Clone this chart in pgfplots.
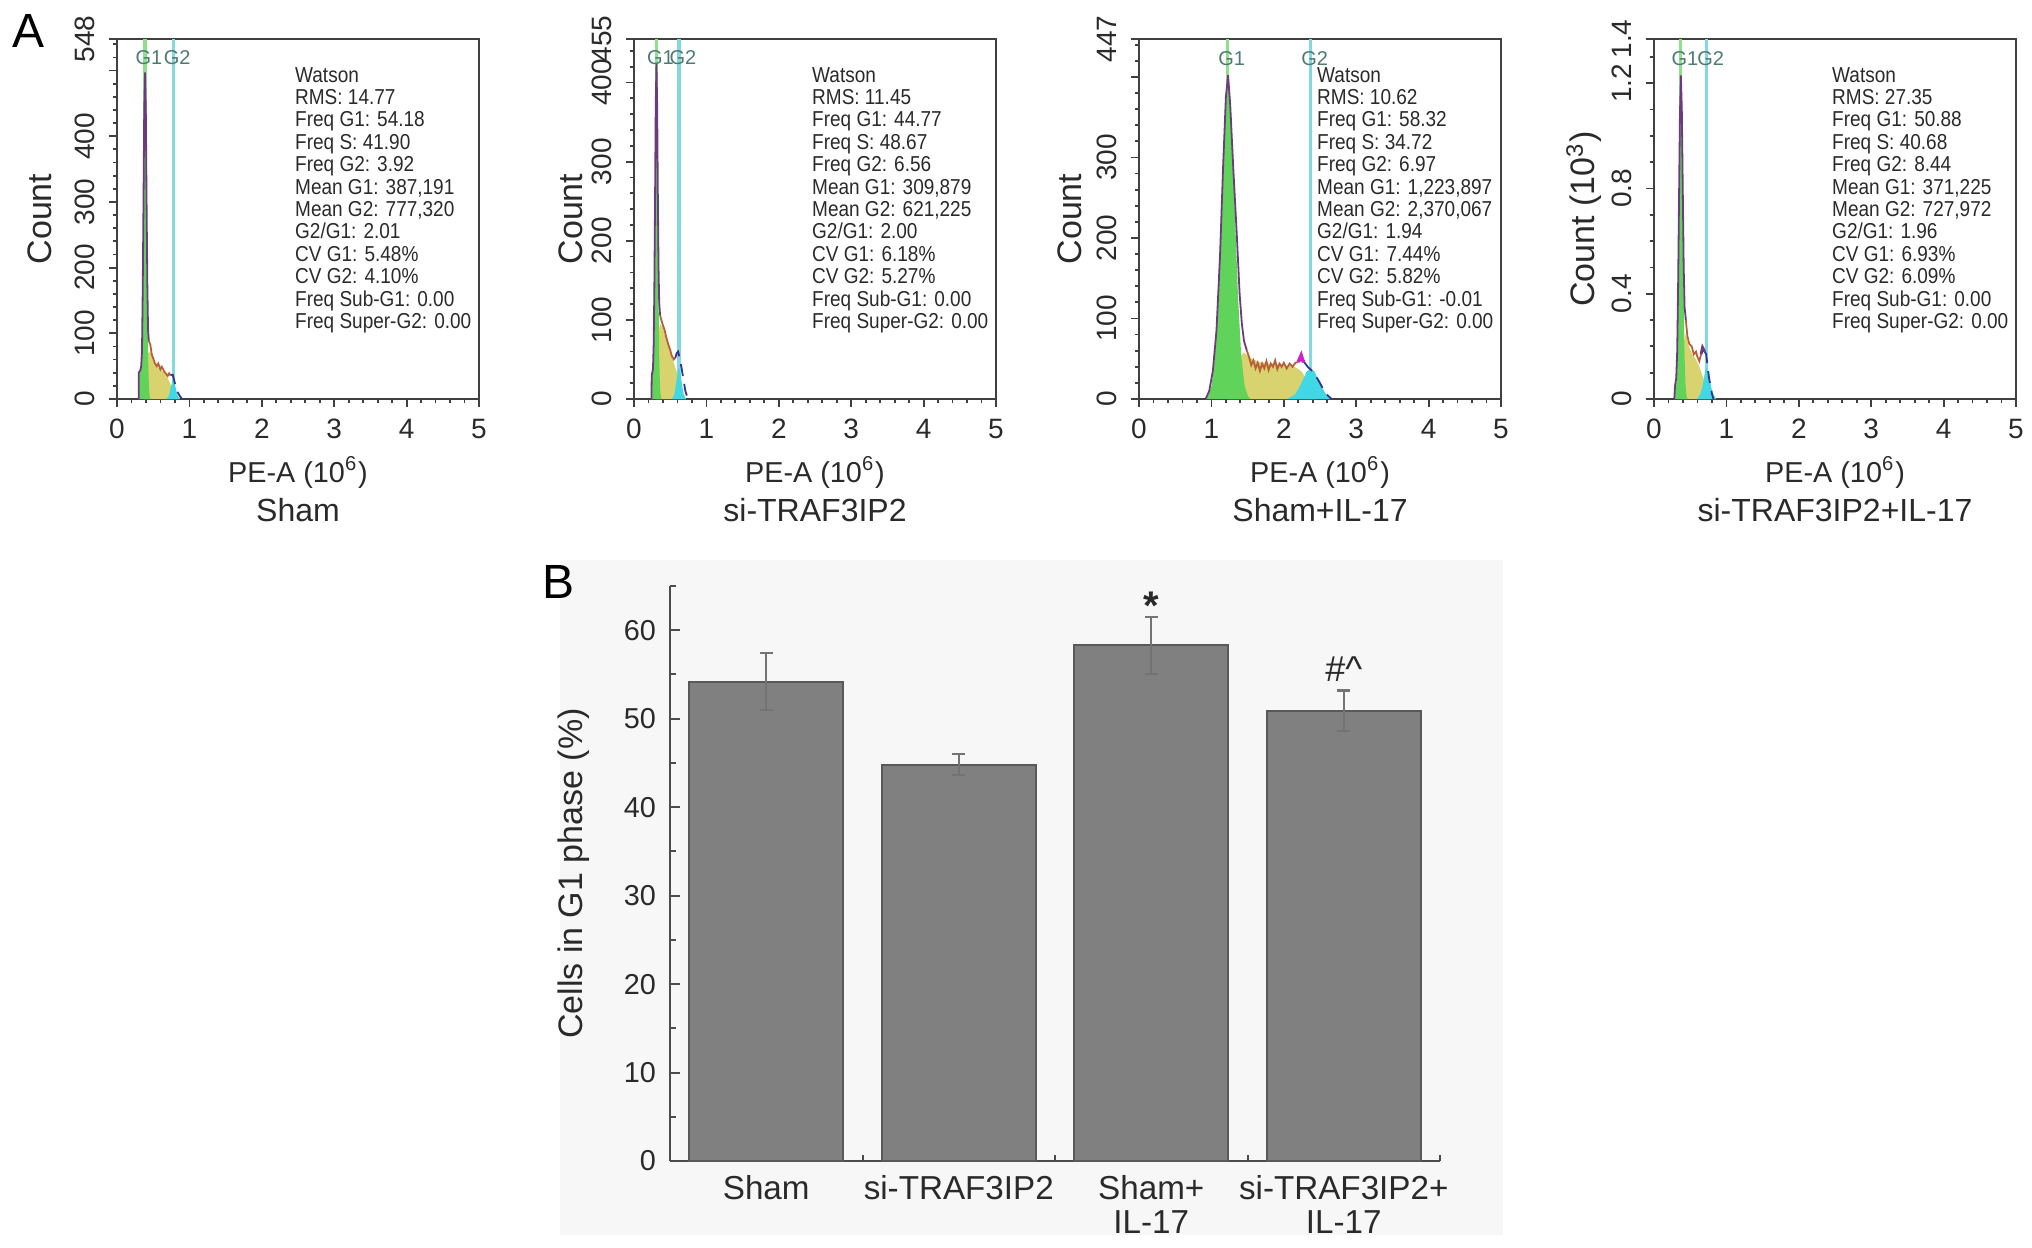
\documentclass[border=0pt]{standalone}
\usepackage{fontspec}
\setmainfont{Liberation Sans}
\newfontfamily\narrowfont[FakeStretch=0.88]{Liberation Sans}
\usepackage{pgfplots}
\pgfplotsset{compat=1.18}

\definecolor{gA}{HTML}{5FD35A}
\definecolor{yS}{HTML}{D8D36E}
\definecolor{cG}{HTML}{3FD8E4}
\definecolor{outl}{HTML}{6E3A7E}
\definecolor{brn}{HTML}{B8603A}
\definecolor{nvy}{HTML}{34348E}
\definecolor{mag}{HTML}{D020C8}
\definecolor{gline}{HTML}{8EE08E}
\definecolor{cline}{HTML}{86D8E0}
\definecolor{glab}{HTML}{4F7A74}
\definecolor{barfill}{HTML}{808080}
\definecolor{txt}{HTML}{2A2A2A}

\pgfplotsset{
  hist/.style={
    anchor=south west, scale only axis, width=90.5pt, height=90pt,
    xmin=0, xmax=5, ymin=0, clip=false,
    axis line style={draw=black!75, line width=0.7pt},
    xtick={0,1,2,3,4,5}, minor x tick num=4,
    tick align=outside, tick pos=left,
    major tick length=2pt, minor tick length=1.1pt,
    tick style={black!75, line width=0.45pt},
    ticklabel style={font=\fontsize{7}{8}\selectfont, text=txt},
    xticklabel style={yshift=0.5pt},
    /pgf/number format/assume math mode=true,
    yticklabel style={rotate=90, anchor=south},
    xlabel={PE-A (10\textsuperscript{6})},
    xlabel style={font=\fontsize{7.2}{8}\selectfont, text=txt, at={(axis description cs:0.5,-0.203)}, anchor=center},
    ylabel style={font=\fontsize{8.5}{9}\selectfont, text=txt, rotate=0, anchor=center},
  },
}
\tikzset{
  wat/.style={anchor=north west, font=\narrowfont\fontsize{5.4}{5.6}\selectfont, align=left, inner sep=0pt, text=txt},
  glabel/.style={font=\fontsize{5}{6}\selectfont, text=glab, xshift=1pt, inner sep=0pt},
  ttl/.style={font=\fontsize{8}{9}\selectfont, text=txt},
}

\begin{document}
\begin{tikzpicture}
\useasboundingbox (0,0) rectangle (508pt,311.75pt);
\fill[black!3] (140pt,3pt) rectangle (375.75pt,171.75pt);
\node[font=\fontsize{12}{14}\selectfont, text=black] at (7.25pt,304pt) {A};
\node[font=\fontsize{12}{14}\selectfont, text=black] at (139.5pt,166.25pt) {B};

% ---------------- Panel 1: Sham
\begin{axis}[hist, at={(29.25pt,212pt)}, ymax=548,
  ytick={0,100,200,300,400,500,548}, yticklabels={0,100,200,300,400,,548},
  minor ytick={20,40,...,540},
  ylabel={Count}, ylabel style={at={(axis description cs:-0.212,0.5)}}]
\addplot[gline, line width=0.8pt] coordinates {(0.387,0) (0.387,548)};
\addplot[cline, line width=0.8pt] coordinates {(0.777,0) (0.777,548)};
\addplot[fill=yS, draw=none] coordinates {(0.37,0) (0.40,40) (0.43,70) (0.46,72) (0.50,58) (0.55,50) (0.60,45) (0.65,40) (0.70,32) (0.74,22) (0.78,12) (0.82,4) (0.85,0)} \closedcycle;
\addplot[fill=cG, draw=none] coordinates {(0.68,0) (0.713,4) (0.729,10) (0.745,18) (0.761,26) (0.777,30) (0.793,26) (0.809,18) (0.825,10) (0.841,4) (0.873,0)} \closedcycle;
\addplot[fill=gA, draw=none] coordinates {(0.30,0) (0.30,40) (0.323,42) (0.334,48) (0.345,70) (0.355,159) (0.366,297) (0.376,432) (0.387,490) (0.398,432) (0.408,297) (0.419,159) (0.429,66) (0.440,22) (0.451,5) (0.46,0)} \closedcycle;
\addplot[outl, line width=0.45pt] coordinates {(0.29,0) (0.30,0) (0.30,40) (0.323,44) (0.334,50) (0.345,72) (0.355,162) (0.366,300) (0.376,440) (0.387,497) (0.398,440) (0.408,305) (0.419,175) (0.429,105) (0.44,88)};
\addplot[brn, line width=0.45pt] coordinates {(0.44,88) (0.46,83) (0.48,68) (0.50,62) (0.52,55) (0.55,50) (0.57,54) (0.60,45) (0.62,49) (0.65,42) (0.68,38) (0.70,35) (0.72,39) (0.74,36)};
\addplot[nvy, line width=0.45pt, densely dashed] coordinates {(0.74,36) (0.77,37) (0.80,24) (0.84,10) (0.87,4) (0.90,0)};
\node[glabel] at (axis cs:0.387,519) {G1};
\node[glabel] at (axis cs:0.777,519) {G2};
\node[wat] at (rel axis cs:0.49,0.924) {Watson\\RMS: 14.77\\Freq G1: 54.18\\Freq S: 41.90\\Freq G2: 3.92\\Mean G1: 387,191\\Mean G2: 777,320\\G2/G1: 2.01\\CV G1: 5.48\%\\CV G2: 4.10\%\\Freq Sub-G1: 0.00\\Freq Super-G2: 0.00};
\node[ttl] at (rel axis cs:0.5,-0.308) {Sham};
\end{axis}

% ---------------- Panel 2: si-TRAF3IP2
\begin{axis}[hist, at={(158.5pt,212pt)}, ymax=455,
  ytick={0,100,200,300,400,455}, yticklabels={0,100,200,300,400,455},
  minor ytick={20,40,...,440},
  ylabel={Count}, ylabel style={at={(axis description cs:-0.176,0.5)}}]
\addplot[gline, line width=0.8pt] coordinates {(0.310,0) (0.310,455)};
\addplot[cline, line width=0.8pt] coordinates {(0.621,0) (0.621,455)};
\addplot[fill=yS, draw=none] coordinates {(0.30,0) (0.33,80) (0.36,95) (0.40,90) (0.45,75) (0.50,60) (0.55,45) (0.60,32) (0.65,18) (0.69,6) (0.72,0)} \closedcycle;
\addplot[fill=cG, draw=none] coordinates {(0.523,0) (0.556,5) (0.572,14) (0.588,24) (0.605,35) (0.621,40) (0.637,35) (0.654,24) (0.670,14) (0.686,5) (0.72,0)} \closedcycle;
\addplot[fill=gA, draw=none] coordinates {(0.24,0) (0.245,28) (0.252,30) (0.262,35) (0.272,58) (0.281,133) (0.291,249) (0.300,362) (0.310,410) (0.320,362) (0.329,249) (0.339,133) (0.348,55) (0.358,18) (0.368,5) (0.38,0)} \closedcycle;
\addplot[outl, line width=0.45pt] coordinates {(0.235,0) (0.24,0) (0.245,30) (0.262,38) (0.272,70) (0.281,140) (0.291,255) (0.300,370) (0.310,424) (0.320,370) (0.329,262) (0.339,165) (0.348,122) (0.36,106)};
\addplot[brn, line width=0.45pt] coordinates {(0.36,106) (0.377,100) (0.40,93) (0.42,88) (0.446,78) (0.47,70) (0.50,62) (0.52,55) (0.55,50) (0.57,52)};
\addplot[nvy, line width=0.45pt, densely dashed] coordinates {(0.57,52) (0.59,58) (0.61,60) (0.63,52) (0.66,38) (0.68,26) (0.71,10) (0.745,0)};
\node[glabel] at (axis cs:0.310,431) {G1};
\node[glabel] at (axis cs:0.621,431) {G2};
\node[wat] at (rel axis cs:0.49,0.924) {Watson\\RMS: 11.45\\Freq G1: 44.77\\Freq S: 48.67\\Freq G2: 6.56\\Mean G1: 309,879\\Mean G2: 621,225\\G2/G1: 2.00\\CV G1: 6.18\%\\CV G2: 5.27\%\\Freq Sub-G1: 0.00\\Freq Super-G2: 0.00};
\node[ttl] at (rel axis cs:0.5,-0.308) {si-TRAF3IP2};
\end{axis}

% ---------------- Panel 3: Sham+IL-17
\begin{axis}[hist, at={(284.75pt,212pt)}, ymax=447,
  ytick={0,100,200,300,400,447}, yticklabels={0,100,200,300,,447},
  minor ytick={20,40,...,440},
  ylabel={Count}, ylabel style={at={(axis description cs:-0.19,0.5)}}]
\addplot[gline, line width=0.8pt] coordinates {(1.224,0) (1.224,447)};
\addplot[cline, line width=0.8pt] coordinates {(2.370,0) (2.370,447)};
\addplot[fill=yS, draw=none] coordinates {(1.22,0) (1.30,25) (1.38,50) (1.45,58) (1.52,52) (1.65,46) (1.80,44) (2.00,42) (2.15,40) (2.25,34) (2.32,22) (2.40,8) (2.45,0)} \closedcycle;
\addplot[fill=cG, draw=none] coordinates {(2.04,0) (2.15,5) (2.205,13) (2.26,23) (2.315,34) (2.37,38) (2.425,34) (2.48,23) (2.535,13) (2.59,5) (2.66,0)} \closedcycle;
\addplot[fill=gA, draw=none] coordinates {(0.92,0) (0.957,4) (1.003,17) (1.048,53) (1.094,128) (1.139,240) (1.185,348) (1.23,395) (1.276,348) (1.321,240) (1.367,128) (1.412,53) (1.458,17) (1.503,4) (1.54,0)} \closedcycle;
\addplot[outl, line width=0.45pt] coordinates {(0.92,0) (0.97,10) (1.02,35) (1.07,85) (1.12,180) (1.16,285) (1.20,375) (1.23,402) (1.26,365) (1.30,290) (1.35,205) (1.39,130) (1.42,94) (1.45,72) (1.49,60)};
\addplot[brn, line width=0.45pt] coordinates {(1.49,60) (1.52,52) (1.55,42) (1.58,48) (1.61,38) (1.64,45) (1.67,35) (1.70,44) (1.73,38) (1.76,47) (1.79,36) (1.82,44) (1.85,40) (1.88,48) (1.91,37) (1.94,44) (1.97,40) (2.00,45) (2.04,38) (2.08,44) (2.12,40) (2.16,45) (2.20,46)};
\addplot[mag, line width=0.9pt] coordinates {(2.20,46) (2.22,50) (2.24,54) (2.26,48) (2.28,46)};
\addplot[nvy, line width=0.45pt, densely dashed] coordinates {(2.28,46) (2.33,40) (2.40,34) (2.48,23) (2.54,13) (2.60,5) (2.66,0)};
\node[glabel] at (axis cs:1.224,423) {G1};
\node[glabel] at (axis cs:2.370,423) {G2};
\node[wat] at (rel axis cs:0.49,0.924) {Watson\\RMS: 10.62\\Freq G1: 58.32\\Freq S: 34.72\\Freq G2: 6.97\\Mean G1: 1,223,897\\Mean G2: 2,370,067\\G2/G1: 1.94\\CV G1: 7.44\%\\CV G2: 5.82\%\\Freq Sub-G1: -0.01\\Freq Super-G2: 0.00};
\node[ttl] at (rel axis cs:0.5,-0.308) {Sham+IL-17};
\end{axis}

% ---------------- Panel 4: si-TRAF3IP2+IL-17
\begin{axis}[hist, at={(413.5pt,212pt)}, ymax=1.368,
  ytick={0,0.4,0.8,1.2,1.368}, yticklabels={0,0.4,0.8,1.2,1.4},
  minor ytick={0.1,0.2,0.3,0.5,0.6,0.7,0.9,1.0,1.1,1.3},
  ylabel={Count (10\textsuperscript{3})}, ylabel style={at={(axis description cs:-0.194,0.5)}}]
\addplot[gline, line width=0.8pt] coordinates {(0.371,0) (0.371,1.368)};
\addplot[cline, line width=0.8pt] coordinates {(0.728,0) (0.728,1.368)};
\addplot[fill=yS, draw=none] coordinates {(0.37,0) (0.40,0.20) (0.44,0.25) (0.48,0.20) (0.53,0.17) (0.58,0.15) (0.63,0.12) (0.68,0.08) (0.73,0.04) (0.78,0)} \closedcycle;
\addplot[fill=cG, draw=none] coordinates {(0.595,0) (0.64,0.02) (0.662,0.04) (0.684,0.07) (0.706,0.105) (0.728,0.12) (0.750,0.105) (0.772,0.07) (0.794,0.04) (0.816,0.02) (0.86,0)} \closedcycle;
\addplot[fill=gA, draw=none] coordinates {(0.28,0) (0.294,0.04) (0.307,0.06) (0.320,0.162) (0.332,0.39) (0.345,0.728) (0.358,1.058) (0.371,1.20) (0.384,1.058) (0.397,0.728) (0.410,0.39) (0.422,0.162) (0.435,0.053) (0.448,0.013) (0.46,0)} \closedcycle;
\addplot[outl, line width=0.45pt] coordinates {(0.28,0) (0.29,0.05) (0.307,0.08) (0.320,0.18) (0.332,0.41) (0.345,0.75) (0.358,1.08) (0.371,1.23) (0.384,1.10) (0.397,0.80) (0.410,0.50) (0.422,0.35) (0.44,0.30)};
\addplot[brn, line width=0.45pt] coordinates {(0.44,0.30) (0.46,0.24) (0.486,0.21) (0.52,0.20) (0.55,0.17) (0.58,0.18) (0.60,0.16) (0.625,0.144) (0.65,0.17)};
\addplot[outl, line width=0.7pt] coordinates {(0.65,0.17) (0.67,0.196) (0.70,0.18)};
\addplot[nvy, line width=0.45pt, densely dashed] coordinates {(0.70,0.18) (0.72,0.17) (0.76,0.08) (0.80,0.02) (0.82,0)};
\node[glabel] at (axis cs:0.371,1.295) {G1};
\node[glabel] at (axis cs:0.728,1.295) {G2};
\node[wat] at (rel axis cs:0.49,0.924) {Watson\\RMS: 27.35\\Freq G1: 50.88\\Freq S: 40.68\\Freq G2: 8.44\\Mean G1: 371,225\\Mean G2: 727,972\\G2/G1: 1.96\\CV G1: 6.93\%\\CV G2: 6.09\%\\Freq Sub-G1: 0.00\\Freq Super-G2: 0.00};
\node[ttl] at (rel axis cs:0.5,-0.308) {si-TRAF3IP2+IL-17};
\end{axis}

% ---------------- Panel B: bar chart
\begin{axis}[at={(167.5pt,21.5pt)}, anchor=south west, scale only axis,
  width=192.5pt, height=143.75pt,
  xmin=-0.5, xmax=3.5, ymin=0, ymax=65, clip=false,
  axis lines*=left,
  axis line style={draw=black!70, line width=0.6pt},
  ybar, bar width=0.8,
  xtick={0,1,2,3},
  xticklabels={Sham, si-TRAF3IP2, {Sham+\\IL-17}, {si-TRAF3IP2+\\IL-17}},
  minor xtick={0.5,1.5,2.5,3.5},
  ytick={0,10,20,30,40,50,60}, minor ytick={5,15,25,35,45,55,65},
  tick align=inside,
  major tick length=2.5pt, minor tick length=1.6pt,
  tick style={black!70, line width=0.5pt},
  /pgf/number format/assume math mode=true,
  yticklabel style={font=\fontsize{7.2}{8}\selectfont, text=txt},
  xticklabel style={font=\fontsize{8.3}{8.6}\selectfont, text=txt, align=center, anchor=north},
  ylabel={Cells in G1 phase (\%)},
  ylabel style={font=\fontsize{8.5}{9}\selectfont, text=txt, at={(axis description cs:-0.125,0.5)}, anchor=center},
]
\addplot[fill=barfill, draw=black!65, line width=0.5pt,
  error bars/.cd, y dir=both, y explicit,
  error bar style={draw=black!55, line width=0.55pt},
  error mark options={rotate=90, mark size=1.6pt, draw=black!55, line width=0.55pt}]
  coordinates {(0,54.2) +- (0,3.2) (1,44.8) +- (0,1.2) (2,58.3) +- (0,3.2) (3,50.9) +- (0,2.3)};
\node[font=\fontsize{10}{11}\selectfont\bfseries, text=txt] at (axis cs:2,62.8) {*};
\node[font=\fontsize{9}{10}\selectfont, text=txt] at (axis cs:3,55.6) {\#\textasciicircum};
\end{axis}
\end{tikzpicture}
\end{document}
